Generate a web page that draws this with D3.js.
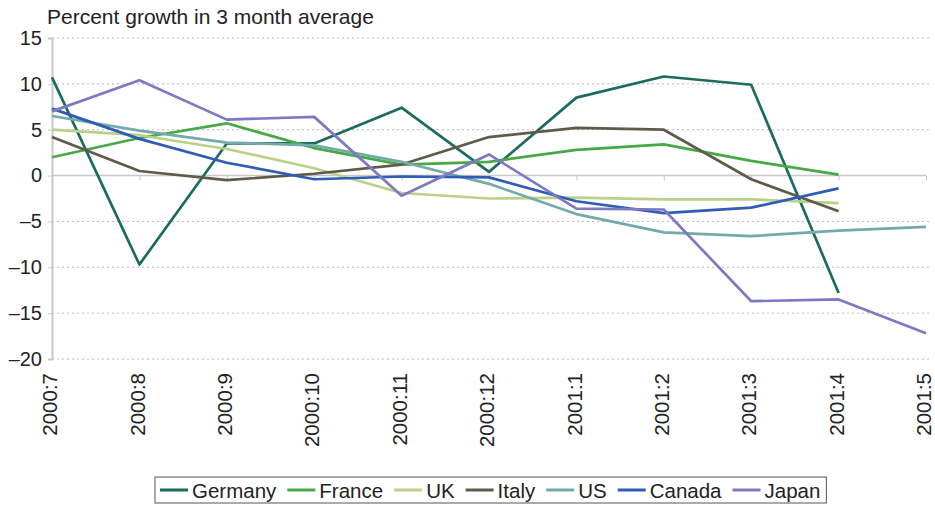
<!DOCTYPE html>
<html lang="en">
<head>
    <meta charset="UTF-8">
    <style>
        body { margin: 0; background: #fff; }
        svg text { font-family: "Liberation Sans", Arial, sans-serif; fill: #222; }
    </style>
    <script src="https://d3js.org/d3.v7.min.js"></script>
    <title>Percent growth in 3 month average</title>
</head>
<body>
    <div class="Fig"></div>
    <script>
    // month labels on the x axis
    const months = ["2000:7", "2000:8", "2000:9", "2000:10", "2000:11", "2000:12",
        "2001:1", "2001:2", "2001:3", "2001:4", "2001:5"];

    const yTicks = [15, 10, 5, 0, -5, -10, -15, -20];

    // percent growth per country (null = no value)
    const germany = [10.7, -9.7, 3.5, 3.5, 7.4, 0.4, 8.5, 10.8, 9.9, -12.8, null];
    const france  = [2.0, 4.1, 5.7, 3.0, 1.2, 1.5, 2.8, 3.4, 1.6, 0.1, null];
    const uk      = [5.0, 4.4, 2.9, 0.8, -1.9, -2.5, -2.4, -2.6, -2.6, -3.0, null];
    const italy   = [4.2, 0.5, -0.5, 0.2, 1.2, 4.2, 5.2, 5.0, -0.4, -3.9, null];
    const us      = [6.5, 4.9, 3.6, 3.3, 1.5, -0.9, -4.2, -6.2, -6.6, -6.0, -5.6];
    const canada  = [7.3, 4.0, 1.4, -0.4, -0.1, -0.2, -2.8, -4.1, -3.5, -1.4, null];
    const japan   = [7.0, 10.4, 6.1, 6.4, -2.2, 2.3, -3.6, -3.7, -13.7, -13.5, -17.2];

    const seriesNames = ["Germany", "France", "UK", "Italy", "US", "Canada", "Japan"];
    const seriesValues = [germany, france, uk, italy, us, canada, japan];
    const seriesColors = ["#1b6b5f", "#46a846", "#b9d189", "#5e5b4a", "#73aaaa", "#2f5db6", "#7d79c2"];

    const width = 935, height = 505;

    const svg = d3.select(".Fig").append("svg")
        .attr("width", width)
        .attr("height", height);

    const x = d3.scalePoint()
        .domain(months)
        .range([52, 926]);

    const y = d3.scaleLinear()
        .domain([-20, 15])
        .range([359, 38]);

    // title
    svg.append("text")
        .attr("x", 47)
        .attr("y", 24)
        .style("font-size", "21px")
        .text("Percent growth in 3 month average");

    // dotted gridlines
    svg.append("g")
        .selectAll("line")
        .data(yTicks.filter(d => d !== 0))
        .enter().append("line")
        .attr("x1", 52)
        .attr("x2", 930)
        .attr("y1", d => y(d))
        .attr("y2", d => y(d))
        .attr("stroke", "#b8b8b8")
        .attr("stroke-width", 1)
        .attr("stroke-dasharray", "2,3");

    // y axis
    const yAxis = svg.append("g")
        .attr("transform", "translate(52,0)")
        .call(d3.axisLeft(y).tickValues(yTicks).tickSize(4).tickPadding(6)
            .tickFormat(d => d < 0 ? "\u2013" + Math.abs(d) : d));
    yAxis.select(".domain").attr("stroke", "#c8c8c8").attr("stroke-width", 2);
    yAxis.selectAll(".tick line").attr("stroke", "#c8c8c8");
    yAxis.selectAll(".tick text")
        .style("font-size", "20px")
        .attr("fill", "#222");

    // zero line with category ticks
    const xAxis = svg.append("g")
        .attr("transform", "translate(0," + y(0) + ")")
        .call(d3.axisBottom(x).tickSize(5).tickFormat(""));
    xAxis.select(".domain").attr("stroke", "#c8c8c8").attr("stroke-width", 1.5)
        .attr("d", "M52,0H926");
    xAxis.selectAll(".tick line").attr("stroke", "#c8c8c8");

    // rotated month labels
    svg.append("g")
        .selectAll("text")
        .data(months)
        .enter().append("text")
        .attr("transform", d => "translate(" + x(d) + ",373) rotate(-90)")
        .attr("text-anchor", "end")
        .attr("dy", "0.25em")
        .style("font-size", "20.5px")
        .text(d => d);

    // series lines
    const line = d3.line()
        .defined(d => d !== null)
        .x((d, i) => x(months[i]))
        .y(d => y(d));

    svg.append("g")
        .selectAll("path")
        .data(seriesValues)
        .enter().append("path")
        .attr("d", line)
        .attr("fill", "none")
        .attr("stroke", (d, i) => seriesColors[i])
        .attr("stroke-width", 2.7)
        .attr("stroke-linejoin", "round");

    // legend
    const legend = svg.append("g");
    const box = legend.append("rect")
        .attr("y", 477)
        .attr("height", 26)
        .attr("fill", "#fff")
        .attr("stroke", "#555")
        .attr("stroke-width", 1);

    let lx = 160;
    seriesNames.forEach((name, i) => {
        legend.append("line")
            .attr("x1", lx).attr("x2", lx + 28)
            .attr("y1", 490).attr("y2", 490)
            .attr("stroke", seriesColors[i])
            .attr("stroke-width", 3);
        const t = legend.append("text")
            .attr("x", lx + 32)
            .attr("y", 497.5)
            .style("font-size", "20.5px")
            .text(name);
        lx += 32 + t.node().getComputedTextLength() + 11;
    });
    box.attr("x", 155).attr("width", lx - 155 - 5);
    </script>
</body>
</html>
